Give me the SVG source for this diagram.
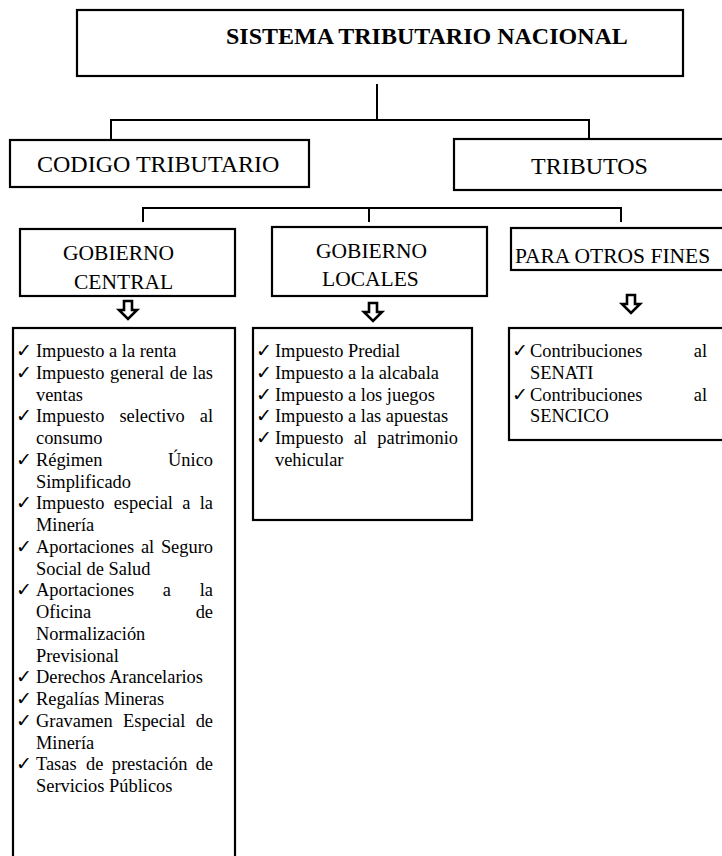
<svg xmlns="http://www.w3.org/2000/svg" width="722" height="856" viewBox="0 0 722 856">
<style>
.box{fill:#fff;stroke:#000;stroke-width:2.2}
.ln{fill:none;stroke:#000;stroke-width:2}
.arr{fill:#fff;stroke:#000;stroke-width:2.6;stroke-linejoin:miter}
text{font-family:"Liberation Serif","Times New Roman",serif;fill:#000}
.t24{font-size:24px}
.tb{font-size:24px;font-weight:bold}
.t21{font-size:21.5px}
.li{font-size:18.4px}
.ck{font-family:"DejaVu Sans",sans-serif;font-size:19px}
.e{text-anchor:end}
</style>
<rect width="722" height="856" fill="#fff"/>
<g id="connectors">
<path class="ln" d="M377 84V120M111 120H589M111 119V140M589 119V138"/>
<path class="ln" d="M143 208H621M143 207V222M369 207V222M621 207V222"/>
</g>
<g id="n-sistema">
<rect class="box" x="77" y="10" width="606" height="66"/>
<text class="tb" x="226" y="44">SISTEMA TRIBUTARIO NACIONAL</text>
</g>
<g id="n-codigo">
<rect class="box" x="10" y="140" width="299" height="47"/>
<text class="t24" x="37" y="172">CODIGO TRIBUTARIO</text>
</g>
<g id="n-tributos">
<rect class="box" x="454" y="139" width="280" height="51"/>
<text class="t24" x="531" y="174">TRIBUTOS</text>
</g>
<g id="n-central">
<rect class="box" x="20" y="229" width="215" height="67"/>
<text class="t21" x="63" y="260">GOBIERNO</text>
<text class="t21" x="74" y="289">CENTRAL</text>
</g>
<g id="n-locales">
<rect class="box" x="272" y="227" width="215" height="69"/>
<text class="t21" x="316" y="258">GOBIERNO</text>
<text class="t21" x="322" y="286">LOCALES</text>
</g>
<g id="n-otros">
<rect class="box" x="511" y="228" width="220" height="42"/>
<text class="t21" x="515" y="263">PARA OTROS FINES</text>
</g>
<g id="arrows">
<path class="arr" d="M124 301H132V310H137L128 319L119 310H124Z"/>
<path class="arr" d="M369 303H377V312H382L373 321L364 312H369Z"/>
<path class="arr" d="M627 295H635V304H640L631 313L622 304H627Z"/>
</g>
<g id="n-list-central">
<rect class="box" x="13" y="328" width="222" height="545"/>
<text class="ck" x="16" y="357">✓</text>
<text class="li" x="36" y="357">Impuesto a la renta</text>
<text class="ck" x="16" y="378.75">✓</text>
<text class="li" x="36" y="378.75">Impuesto</text>
<text class="li" x="110" y="378.75">general</text>
<text class="li" x="169.7" y="378.75">de</text>
<text class="li e" x="213" y="378.75">las</text>
<text class="li" x="36" y="400.5">ventas</text>
<text class="ck" x="16" y="422.25">✓</text>
<text class="li" x="36" y="422.25">Impuesto</text>
<text class="li" x="119.4" y="422.25">selectivo</text>
<text class="li e" x="213" y="422.25">al</text>
<text class="li" x="36" y="444">consumo</text>
<text class="ck" x="16" y="465.75">✓</text>
<text class="li" x="36" y="465.75">Régimen</text>
<text class="li e" x="213" y="465.75">Único</text>
<text class="li" x="36" y="487.5">Simplificado</text>
<text class="ck" x="16" y="509.25">✓</text>
<text class="li" x="36" y="509.25">Impuesto</text>
<text class="li" x="113.7" y="509.25">especial</text>
<text class="li" x="182.3" y="509.25">a</text>
<text class="li e" x="213" y="509.25">la</text>
<text class="li" x="36" y="531">Minería</text>
<text class="ck" x="16" y="552.75">✓</text>
<text class="li" x="36" y="552.75">Aportaciones</text>
<text class="li" x="140.9" y="552.75">al</text>
<text class="li e" x="213" y="552.75">Seguro</text>
<text class="li" x="36" y="574.5">Social de Salud</text>
<text class="ck" x="16" y="596.25">✓</text>
<text class="li" x="36" y="596.25">Aportaciones</text>
<text class="li" x="162.8" y="596.25">a</text>
<text class="li e" x="213" y="596.25">la</text>
<text class="li" x="36" y="618">Oficina</text>
<text class="li e" x="213" y="618">de</text>
<text class="li" x="36" y="639.75">Normalización</text>
<text class="li" x="36" y="661.5">Previsional</text>
<text class="ck" x="16" y="683.25">✓</text>
<text class="li" x="36" y="683.25">Derechos Arancelarios</text>
<text class="ck" x="16" y="705">✓</text>
<text class="li" x="36" y="705">Regalías Mineras</text>
<text class="ck" x="16" y="726.75">✓</text>
<text class="li" x="36" y="726.75">Gravamen</text>
<text class="li" x="123" y="726.75">Especial</text>
<text class="li e" x="213" y="726.75">de</text>
<text class="li" x="36" y="748.5">Minería</text>
<text class="ck" x="16" y="770.25">✓</text>
<text class="li" x="36" y="770.25">Tasas</text>
<text class="li" x="86.1" y="770.25">de</text>
<text class="li" x="111.8" y="770.25">prestación</text>
<text class="li e" x="213" y="770.25">de</text>
<text class="li" x="36" y="792">Servicios Públicos</text>
</g>
<g id="n-list-locales">
<rect class="box" x="253" y="328" width="219" height="192"/>
<text class="ck" x="256" y="357">✓</text>
<text class="li" x="275" y="357">Impuesto Predial</text>
<text class="ck" x="256" y="378.75">✓</text>
<text class="li" x="275" y="378.75">Impuesto a la alcabala</text>
<text class="ck" x="256" y="400.5">✓</text>
<text class="li" x="275" y="400.5">Impuesto a los juegos</text>
<text class="ck" x="256" y="422.25">✓</text>
<text class="li" x="275" y="422.25">Impuesto a las apuestas</text>
<text class="ck" x="256" y="444">✓</text>
<text class="li" x="275" y="444">Impuesto</text>
<text class="li" x="353.7" y="444">al</text>
<text class="li e" x="458" y="444">patrimonio</text>
<text class="li" x="275" y="465.75">vehicular</text>
</g>
<g id="n-list-otros">
<rect class="box" x="509" y="328" width="225" height="112"/>
<text class="ck" x="512" y="357">✓</text>
<text class="li" x="530" y="357">Contribuciones</text>
<text class="li e" x="707" y="357">al</text>
<text class="li" x="530" y="378.75">SENATI</text>
<text class="ck" x="512" y="400.5">✓</text>
<text class="li" x="530" y="400.5">Contribuciones</text>
<text class="li e" x="707" y="400.5">al</text>
<text class="li" x="530" y="422.25">SENCICO</text>
</g>
</svg>
